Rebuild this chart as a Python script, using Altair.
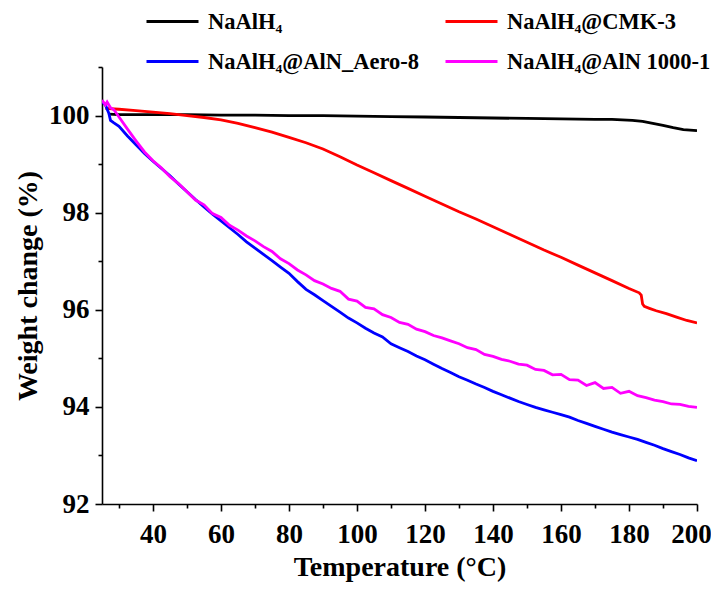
import altair as alt
import pandas as pd

FONT = "Liberation Serif"

SERIES = ["NaAlH₄", "NaAlH₄@CMK-3", "NaAlH₄@AlN_Aero-8", "NaAlH₄@AlN 1000-1"]
COLORS = ["#000000", "#ff0000", "#0000ff", "#ff00ff"]

# NaAlH4
black_T = [27, 30, 40, 50, 60, 70, 80, 90, 100, 110, 120, 130, 140, 150, 160, 170, 175,
           181, 184, 187, 190, 193, 196, 200]
black_W = [100.03, 100.02, 100.02, 100.02, 100.01, 100.01, 100.0, 100.0, 99.99, 99.98,
           99.97, 99.96, 99.95, 99.94, 99.93, 99.92, 99.92, 99.90, 99.88, 99.84, 99.80,
           99.75, 99.71, 99.69]

# NaAlH4@CMK-3
red_T = [26, 30, 35, 40, 45, 50, 55, 60, 65, 70, 75, 80, 85, 90, 95, 100, 105, 110, 115,
         120, 125, 130, 135, 140, 145, 150, 155, 160, 165, 170, 175, 180, 183, 183.6, 184.0,
         184.5, 186, 188, 191, 194, 197, 200]
red_W = [100.15, 100.13, 100.10, 100.07, 100.04, 100.0, 99.96, 99.91, 99.84, 99.75, 99.66,
         99.55, 99.44, 99.31, 99.15, 98.98, 98.82, 98.66, 98.50, 98.34, 98.18, 98.02, 97.87,
         97.71, 97.55, 97.39, 97.23, 97.08, 96.92, 96.76, 96.60, 96.44, 96.35, 96.30, 96.12,
         96.07, 96.03, 95.98, 95.92, 95.85, 95.78, 95.73]

# NaAlH4@AlN_Aero-8
blue_T = [25, 26, 27, 27.5, 28.5, 30, 32.5, 35, 37.5, 40, 42.5, 45, 47.5, 50, 52.5, 55, 57.5,
          60, 62.5, 65, 67.5, 70, 72.5, 75, 77.5, 80, 82.5, 85, 87.5, 90, 92.5, 95, 97.5, 100,
          102.5, 105, 107.5, 110, 112.5, 115, 117.5, 120, 122.5, 125, 127.5, 130, 132.5, 135,
          137.5, 140, 142.5, 145, 147.5, 150, 152.5, 155, 157.5, 160, 162.5, 165, 167.5, 170,
          172.5, 175, 177.5, 180, 182.5, 185, 187.5, 190, 192.5, 195, 197.5, 200]
blue_W = [100.28, 100.22, 100.05, 99.90, 99.85, 99.78, 99.58, 99.40, 99.22, 99.06, 98.91,
          98.76, 98.59, 98.43, 98.27, 98.12, 97.97, 97.83, 97.69, 97.55, 97.40, 97.27, 97.14,
          97.01, 96.88, 96.75, 96.58, 96.42, 96.31, 96.19, 96.07, 95.95, 95.83, 95.73, 95.62,
          95.52, 95.44, 95.30, 95.22, 95.14, 95.05, 94.97, 94.88, 94.79, 94.71, 94.62, 94.55,
          94.47, 94.40, 94.32, 94.25, 94.18, 94.11, 94.05, 93.99, 93.94, 93.89, 93.84, 93.79,
          93.72, 93.66, 93.60, 93.54, 93.48, 93.43, 93.38, 93.33, 93.27, 93.21, 93.14, 93.08,
          93.02, 92.95, 92.89]

# NaAlH4@AlN 1000-1
mag_T = [25, 26, 26.5, 27.5, 28.5, 30, 32.5, 35, 37.5, 40, 42.5, 45, 47.5, 50, 52.5, 55, 57.5,
         60, 62.5, 65, 67.5, 70, 72.5, 75, 77.5, 80, 82.5, 85, 87.5, 90, 92.5, 95, 97.5, 100,
         102.5, 105, 107.5, 110, 112.5, 115, 117.5, 120, 122.5, 125, 127.5, 130, 132.5, 135,
         137.5, 140, 142.5, 145, 147.5, 150, 152.5, 155, 157.5, 160, 162.5, 165, 167.5, 170,
         172.5, 175, 177.5, 180, 182.5, 185, 187.5, 190, 192.5, 195, 197.5, 200]
mag_W = [100.32, 100.22, 100.28, 100.16, 100.12, 99.97, 99.72, 99.48, 99.25, 99.07, 98.92,
         98.74, 98.60, 98.43, 98.26, 98.16, 97.98, 97.90, 97.74, 97.64, 97.52, 97.42, 97.30,
         97.20, 97.05, 96.95, 96.82, 96.72, 96.60, 96.53, 96.44, 96.38, 96.22, 96.18, 96.05,
         96.02, 95.90, 95.84, 95.74, 95.70, 95.60, 95.55, 95.47, 95.42, 95.36, 95.30, 95.22,
         95.18, 95.08, 95.04, 94.98, 94.94, 94.88, 94.86, 94.77, 94.75, 94.66, 94.67, 94.56,
         94.55, 94.44, 94.50, 94.38, 94.40, 94.28, 94.32, 94.23, 94.19, 94.14, 94.11, 94.06,
         94.05, 94.01, 93.99]

X_MAJOR = [40, 60, 80, 100, 120, 140, 160, 180, 200]
X_MINOR = [30, 50, 70, 90, 110, 130, 150, 170, 190]
Y_MAJOR = [92, 94, 96, 98, 100]
Y_MINOR = [93, 95, 97, 99, 101]

rows = []
for name, ts, ws in zip(SERIES, [black_T, red_T, blue_T, mag_T],
                        [black_W, red_W, blue_W, mag_W]):
    for t, w in zip(ts, ws):
        rows.append({"series": name, "T": t, "W": w})
df = pd.DataFrame(rows)

xscale = alt.Scale(domain=[25, 200], nice=False, zero=False)
yscale = alt.Scale(domain=[92, 101], nice=False, zero=False)

common_axis = dict(labelFont=FONT, labelFontWeight="bold", labelFontSize=27,
                   labelColor="black", titleFont=FONT, titleFontWeight="bold",
                   titleFontSize=28, titleColor="black", domainColor="black",
                   domainWidth=1.6, tickColor="black", tickWidth=1.6, grid=False)

lines = alt.Chart(df).mark_line(strokeWidth=2.8, clip=True).encode(
    x=alt.X("T:Q", scale=xscale,
            axis=alt.Axis(values=X_MAJOR, title="Temperature (°C)", orient="bottom",
                          tickSize=7, labelPadding=10, titlePadding=6,
                          labelOffset={"condition": {"test": "datum.value == 200",
                                                     "value": -6}, "value": 0},
                          labelFlush=False, **common_axis)),
    y=alt.Y("W:Q", scale=yscale,
            axis=alt.Axis(values=Y_MAJOR, title="Weight change (%)", orient="left",
                          tickSize=7, labelPadding=6, titlePadding=6,
                          labelFlush=False, **common_axis)),
    color=alt.Color("series:N",
                    scale=alt.Scale(domain=SERIES, range=COLORS),
                    sort=SERIES,
                    legend=alt.Legend(title=None, orient="none", direction="horizontal",
                                      legendX=43, legendY=-73,
                                      columns=2, symbolType="stroke", symbolSize=2704,
                                      symbolStrokeWidth=2.8, labelFont=FONT,
                                      labelFontSize=22.5, labelFontWeight="bold",
                                      labelColor="black", labelOffset=8,
                                      labelLimit=500, rowPadding=1, columnPadding=20,
                                      padding=0)),
)

minor = alt.Chart(df).mark_line(opacity=0).encode(
    x=alt.X("T:Q", scale=xscale,
            axis=alt.Axis(values=X_MINOR, title="", orient="bottom", labels=False,
                          domain=False, tickSize=4, tickColor="black", tickWidth=1.6,
                          grid=False)),
    y=alt.Y("W:Q", scale=yscale,
            axis=alt.Axis(values=Y_MINOR, title="", orient="left", labels=False,
                          domain=False, tickSize=4, tickColor="black", tickWidth=1.6,
                          grid=False)),
)

chart = alt.layer(lines, minor).resolve_axis(x="independent", y="independent").properties(
    width=595, height=437,
    autosize=alt.AutoSizeParams(type="none"),
    padding={"left": 94, "top": 59, "right": 14, "bottom": 80},
    background="white",
).configure_view(stroke=None)

chart.save("out.html", embed_options={"renderer": "svg", "actions": False})
